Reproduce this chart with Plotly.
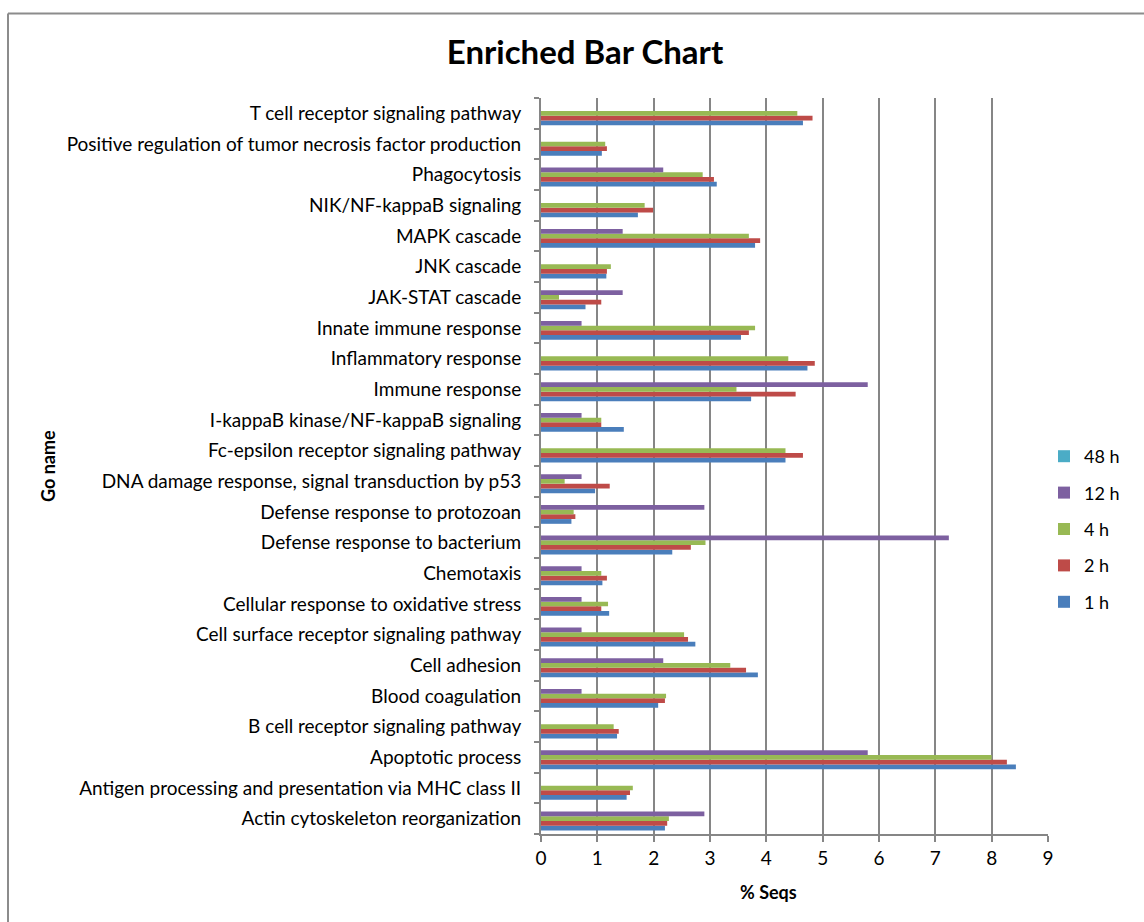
import plotly.graph_objects as go

# GO terms, listed bottom to top as they appear on the category axis
categories = [
    "Actin cytoskeleton reorganization",
    "Antigen processing and presentation via MHC class II",
    "Apoptotic process",
    "B cell receptor signaling pathway",
    "Blood coagulation",
    "Cell adhesion",
    "Cell surface receptor signaling pathway",
    "Cellular response to oxidative stress",
    "Chemotaxis",
    "Defense response to bacterium",
    "Defense response to protozoan",
    "DNA damage response, signal transduction by p53",
    "Fc-epsilon receptor signaling pathway",
    "I-kappaB kinase/NF-kappaB signaling",
    "Immune response",
    "Inflammatory response",
    "Innate immune response",
    "JAK-STAT cascade",
    "JNK cascade",
    "MAPK cascade",
    "NIK/NF-kappaB signaling",
    "Phagocytosis",
    "Positive regulation of tumor necrosis factor production",
    "T cell receptor signaling pathway",
]

# % of sequences per time point
seqs_1h = [2.20, 1.52, 8.43, 1.35, 2.08, 3.85, 2.74, 1.21, 1.09, 2.33, 0.54, 0.96,
           4.34, 1.47, 3.73, 4.73, 3.55, 0.79, 1.16, 3.80, 1.72, 3.12, 1.08, 4.65]
seqs_2h = [2.24, 1.58, 8.27, 1.38, 2.20, 3.64, 2.61, 1.07, 1.17, 2.66, 0.61, 1.22,
           4.65, 1.07, 4.52, 4.86, 3.69, 1.07, 1.17, 3.89, 1.99, 3.07, 1.17, 4.82]
seqs_4h = [2.27, 1.63, 8.00, 1.29, 2.22, 3.36, 2.54, 1.19, 1.07, 2.92, 0.58, 0.42,
           4.34, 1.07, 3.47, 4.39, 3.80, 0.32, 1.24, 3.69, 1.84, 2.87, 1.14, 4.55]
seqs_12h = [2.90, 0, 5.80, 0, 0.72, 2.17, 0.72, 0.72, 0.72, 7.24, 2.90, 0.72,
            0, 0.72, 5.80, 0, 0.72, 1.45, 0, 1.45, 0, 2.17, 0, 0]
seqs_48h = [0] * len(categories)

series_names = ["1 h", "2 h", "4 h", "12 h", "48 h"]
series_values = [seqs_1h, seqs_2h, seqs_4h, seqs_12h, seqs_48h]
series_colors = ["#4a7ebb", "#be4b48", "#98b954", "#7d60a0", "#4bacc6"]

x_ticks = list(range(0, 10))

FONT = "Lato, 'Open Sans', sans-serif"
GRID = "#868686"

fig = go.Figure()
n = len(series_names)
for i, (name, vals, color) in enumerate(zip(series_names, series_values, series_colors)):
    fig.add_trace(go.Bar(
        x=vals, y=categories, orientation="h", name=name,
        legendgroup=name, legendrank=n - i,
        marker=dict(color=color, line=dict(width=0)),
    ))

# plot-area geometry in pixels (used for the frame and free-standing labels)
L, R, T, B = 541, 1048, 98, 834
W, H = R - L, B - T

def px_x(p):
    return (p - L) / W

def px_y(p):
    return (B - p) / H

fig.update_layout(
    width=1144, height=922,
    margin=dict(l=L, r=1144 - R, t=T, b=922 - B),
    paper_bgcolor="white", plot_bgcolor="white",
    barmode="group", bargap=0.23, bargroupgap=0,
    font=dict(family=FONT, size=19, color="#000000"),
    title=dict(text="<b>Enriched Bar Chart</b>", font=dict(size=33, family=FONT),
               x=px_x(585), xref="paper", xanchor="center",
               y=1 - 52 / 922, yref="container", yanchor="middle"),
    xaxis=dict(
        range=[0, 9], tickvals=x_ticks, ticktext=[str(v) for v in x_ticks],
        showgrid=True, gridcolor=GRID, gridwidth=2,
        showline=True, linecolor=GRID, linewidth=2,
        ticks="outside", ticklen=6, tickcolor=GRID, tickwidth=2,
        tickfont=dict(size=19), zeroline=False,
    ),
    yaxis=dict(
        type="category", categoryorder="array", categoryarray=categories,
        showgrid=False, showline=True, linecolor=GRID, linewidth=2,
        ticks="outside", ticklen=5, tickcolor=GRID, tickwidth=1.5,
        tickson="boundaries", ticklabelstandoff=14,
        tickfont=dict(size=19),
    ),
    legend=dict(
        traceorder="grouped", tracegroupgap=10,
        x=px_x(1044), xanchor="left", y=px_y(529), yanchor="middle",
        font=dict(size=18), itemwidth=30, bgcolor="rgba(0,0,0,0)",
    ),
    annotations=[
        dict(text="<b>% Seqs</b>", xref="paper", yref="paper",
             x=px_x(768), y=px_y(892), xanchor="center", yanchor="middle",
             showarrow=False, font=dict(size=18)),
        dict(text="<b>Go name</b>", xref="paper", yref="paper",
             x=px_x(48), y=px_y(466), xanchor="center", yanchor="middle",
             textangle=-90, showarrow=False, font=dict(size=18)),
    ],
    shapes=[
        dict(type="line", xref="paper", yref="paper",
             x0=px_x(8), x1=px_x(1200), y0=px_y(13.5), y1=px_y(13.5),
             line=dict(color="#8c8c8c", width=2)),
        dict(type="line", xref="paper", yref="paper",
             x0=px_x(8), x1=px_x(8), y0=px_y(13.5), y1=px_y(960),
             line=dict(color="#8c8c8c", width=2)),
    ],
)

fig.write_html("out.html")
